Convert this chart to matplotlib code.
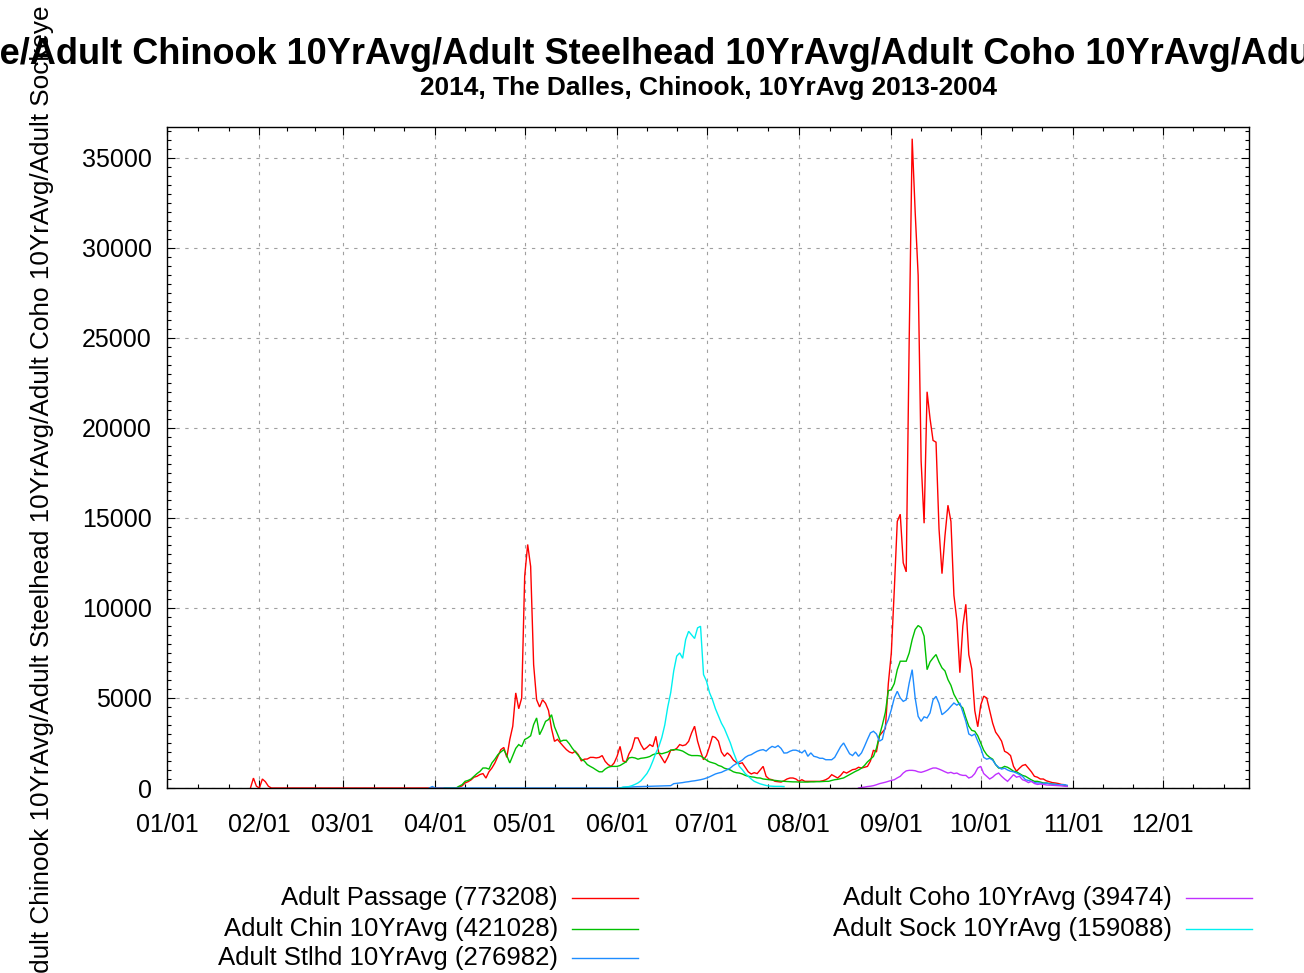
import numpy as np
import matplotlib
matplotlib.use("Agg")
import matplotlib.pyplot as plt
from matplotlib.lines import Line2D
from matplotlib.ticker import FixedLocator, MultipleLocator

plt.rcParams['font.family'] = ['Liberation Sans', 'DejaVu Sans']

# month starts (day of year, 01/01 = 0)
month_days = [0, 31, 59, 90, 120, 151, 181, 212, 243, 273, 304, 334, 365]
month_labels = ['01/01', '02/01', '03/01', '04/01', '05/01', '06/01', '07/01',
                '08/01', '09/01', '10/01', '11/01', '12/01']

title = ("Adult Passage/Adult Chinook 10YrAvg/Adult Steelhead 10YrAvg/"
         "Adult Coho 10YrAvg/Adult Sockeye 10YrAvg")
subtitle = "2014, The Dalles, Chinook, 10YrAvg 2013-2004"

legend_labels = ['Adult Passage (773208)', 'Adult Chin 10YrAvg (421028)',
                 'Adult Stlhd 10YrAvg (276982)', 'Adult Coho 10YrAvg (39474)',
                 'Adult Sock 10YrAvg (159088)']
colors = ['#ff0000', '#00c000', '#1e8cff', '#c030ff', '#00f0f0']

# ---- Adult Passage 2014 (daily) ----
passage_days = [28, 29, 30, 31, 32, 33, 34, 35] + list(range(90, 303))
passage_vals = [0, 550, 100, 0, 500, 350, 100, 0,
    # 90-99
    0, 0, 0, 0, 0, 0, 0, 0, 50, 120,
    # 100-109
    280, 350, 450, 600, 650, 750, 800, 550, 900, 1110,
    # 110-119
    1390, 1760, 2130, 2250, 1700, 2690, 3430, 5280, 4400, 5000,
    # 120-129
    11760, 13520, 12300, 6850, 4900, 4500, 4900, 4700, 4300, 3300,
    # 130-139
    2590, 2700, 2500, 2310, 2130, 2000, 1940, 2040, 1850, 1500,
    # 140-149
    1600, 1610, 1700, 1700, 1670, 1700, 1800, 1480, 1300, 1200,
    # 150-159
    1390, 1760, 2310, 1500, 1450, 1900, 2200, 2780, 2780, 2410,
    # 160-169
    2130, 2250, 2410, 2300, 2870, 1940, 1670, 1390, 1700, 2100,
    # 170-179
    2100, 2200, 2410, 2350, 2400, 2590, 3060, 3430, 2600, 2040,
    # 180-189
    1570, 1800, 2300, 2870, 2800, 2600, 2000, 1760, 1950, 1800,
    # 190-199
    1550, 1420, 1350, 1400, 1150, 900, 780, 850, 800, 1000,
    # 200-209
    1200, 650, 500, 460, 370, 350, 330, 400, 500, 555,
    # 210-219
    555, 500, 370, 460, 370, 370, 370, 370, 370, 370,
    # 220-229
    400, 460, 555, 740, 650, 555, 700, 900, 830, 925,
    # 230-239
    1020, 1050, 1150, 1110, 1150, 1200, 1500, 2100, 2000, 2900,
    # 240-249
    3100, 3300, 5800, 7500, 11000, 14800, 15200, 12500, 12000, 24900,
    # 250-259
    36050, 32000, 28470, 18150, 14700, 22000, 20500, 19300, 19200, 14400,
    # 260-269
    11900, 14000, 15700, 14800, 10700, 9300, 6400, 9000, 10200, 7400,
    # 270-279
    6600, 4300, 3400, 4600, 5100, 5000, 4300, 3600, 3100, 2870,
    # 280-289
    2600, 2040, 1950, 1800, 1200, 930, 1100, 1250, 1300, 1100,
    # 290-299
    900, 650, 600, 500, 500, 400, 350, 300, 280, 250,
    # 300-302
    200, 185, 100]

# ---- Chinook 10yr average ----
chin_days = list(range(93, 303))
chin_vals = [
    # 93-99
    0, 0, 0, 0, 0, 100, 185,
    # 100-109
    370, 420, 500, 650, 800, 925, 1110, 1110, 1050, 1390,
    # 110-119
    1600, 1850, 2000, 2130, 1800, 1390, 1800, 2200, 2410, 2300,
    # 120-129
    2690, 2780, 2900, 3520, 3890, 2960, 3300, 3700, 3800, 4070,
    # 130-139
    3400, 3000, 2590, 2650, 2650, 2450, 2200, 2000, 1800, 1600,
    # 140-149
    1500, 1300, 1200, 1110, 1000, 900, 900, 1050, 1150, 1200,
    # 150-159
    1200, 1200, 1250, 1350, 1450, 1670, 1700, 1670, 1600, 1650,
    # 160-169
    1670, 1700, 1750, 1850, 1900, 1940, 1900, 1950, 2000, 2100,
    # 170-179
    2130, 2130, 2100, 2050, 1950, 1850, 1800, 1800, 1800, 1780,
    # 180-189
    1670, 1550, 1450, 1400, 1350, 1250, 1200, 1100, 1050, 1000,
    # 190-199
    900, 850, 830, 780, 700, 650, 620, 600, 560, 555,
    # 200-209
    500, 480, 460, 440, 420, 400, 380, 370, 360, 350,
    # 210-219
    340, 340, 330, 330, 330, 330, 340, 340, 350, 350,
    # 220-229
    360, 370, 370, 420, 460, 480, 520, 560, 650, 740,
    # 230-239
    830, 925, 1000, 1100, 1250, 1450, 1600, 1750, 2200, 2900,
    # 240-249
    3500, 4200, 5400, 5460, 5800, 6570, 7040, 7040, 7040, 7500,
    # 250-259
    8240, 8800, 9020, 8900, 8430, 6570, 7000, 7220, 7410, 7000,
    # 260-269
    6670, 6500, 6020, 5700, 5200, 4900, 4600, 4440, 3900, 3430,
    # 270-279
    3200, 3150, 2900, 2500, 2100, 1850, 1700, 1600, 1300, 1110,
    # 280-289
    1110, 1200, 1150, 1050, 930, 900, 800, 700, 650, 550,
    # 290-299
    450, 370, 370, 330, 280, 280, 250, 220, 200, 185,
    # 300-302
    185, 150, 120]

# ---- Steelhead 10yr average ----
stlhd_days = [88, 89, 90] + list(range(152, 303))
stlhd_vals = [0, 80, 0,
    # 152-159
    0, 40, 45, 50, 60, 70, 75, 80,
    # 160-169
    90, 95, 100, 105, 110, 115, 120, 125, 128, 130,
    # 170-179
    240, 260, 280, 300, 330, 350, 380, 400, 430, 460,
    # 180-189
    500, 555, 620, 700, 780, 830, 870, 950, 1020, 1110,
    # 190-199
    1250, 1350, 1450, 1550, 1700, 1800, 1850, 1950, 2040, 2100,
    # 200-209
    2130, 2050, 2200, 2310, 2250, 2350, 2200, 1940, 1950, 2040,
    # 210-219
    2100, 2100, 2040, 1950, 2100, 1760, 1950, 1760, 1720, 1650,
    # 220-229
    1650, 1570, 1570, 1570, 1700, 2000, 2300, 2500, 2200, 1900,
    # 230-239
    1800, 2000, 1760, 1950, 2310, 2700, 3060, 3150, 3000, 2600,
    # 240-249
    2700, 3430, 3800, 4350, 5000, 5370, 5000, 4810, 4900, 5830,
    # 250-259
    6570, 5000, 3980, 3700, 3950, 3890, 4170, 4900, 5090, 4700,
    # 260-269
    4070, 4200, 4350, 4540, 4720, 4600, 4720, 4200, 3700, 3000,
    # 270-279
    2900, 3000, 2600, 2220, 1700, 1600, 1650, 1550, 1300, 1150,
    # 280-289
    1050, 1100, 1000, 930, 900, 830, 750, 650, 460, 420,
    # 290-299
    370, 300, 280, 280, 250, 280, 230, 220, 200, 185,
    # 300-302
    185, 185, 150]

# ---- Coho 10yr average ----
coho_days = list(range(232, 303))
coho_vals = [
    # 232-239
    0, 30, 50, 80, 100, 130, 180, 240,
    # 240-249
    280, 320, 370, 420, 460, 560, 650, 830, 950, 980,
    # 250-259
    980, 960, 900, 870, 920, 980, 1050, 1110, 1110, 1050,
    # 260-269
    980, 900, 830, 870, 800, 830, 740, 700, 700, 555,
    # 270-279
    620, 800, 1110, 1200, 800, 650, 500, 600, 750, 830,
    # 280-289
    650, 500, 370, 550, 740, 600, 650, 460, 400, 300,
    # 290-299
    370, 250, 200, 220, 200, 170, 160, 150, 140, 130,
    # 300-302
    120, 100, 90]

# ---- Sockeye 10yr average ----
sock_days = list(range(152, 208))
sock_vals = [
    # 152-159
    0, 40, 60, 80, 130, 200, 280, 400,
    # 160-169
    600, 800, 1100, 1500, 1940, 2300, 2800, 3500, 4500, 5300,
    # 170-179
    6500, 7320, 7500, 7200, 8240, 8700, 8500, 8300, 8890, 8980,
    # 180-189
    6300, 5930, 5300, 4900, 4400, 4000, 3600, 3300, 2900, 2500,
    # 190-199
    2000, 1570, 1200, 1020, 800, 650, 500, 370, 300, 230,
    # 200-207
    185, 140, 110, 100, 90, 90, 90, 80]

series = [(passage_days, passage_vals), (chin_days, chin_vals),
          (stlhd_days, stlhd_vals), (coho_days, coho_vals),
          (sock_days, sock_vals)]

W, H = 1304, 973
fig = plt.figure(figsize=(W / 100, H / 100), dpi=100)
ax = fig.add_axes([167 / W, 1 - 788 / H, (1249 - 167) / W, (788 - 127) / H])

for (d, v), c in zip(series, colors):
    ax.plot(d, v, color=c, lw=1.0, solid_joinstyle='miter')

ax.set_xlim(0, 363)
ax.set_ylim(0, 36700)

ax.xaxis.set_major_locator(FixedLocator(month_days[:-1]))
ax.set_xticklabels(month_labels)
minor_x = []
for a, b in zip(month_days[:-1], month_days[1:]):
    minor_x += [a + (b - a) / 3, a + 2 * (b - a) / 3]
ax.xaxis.set_minor_locator(FixedLocator(minor_x))
ax.yaxis.set_major_locator(MultipleLocator(5000))
ax.yaxis.set_minor_locator(MultipleLocator(500))

ax.tick_params(which='both', direction='in', top=True, right=True, width=0.8)
ax.tick_params(which='major', length=6, labelsize=18)
ax.tick_params(which='minor', length=3)
ax.tick_params(axis='x', which='major', pad=18)
ax.tick_params(axis='y', which='major', pad=11)

ax.grid(True, which='major', color='#a0a0a0', lw=0.8, linestyle=(0, (3, 5)))
for s in ax.spines.values():
    s.set_linewidth(1.0)

# title and y label are wider than the canvas in the original, so they get cut
fig.text(708 / W, 1 - 54 / H, title, ha='center', va='center',
         fontsize=26, fontweight='bold')
fig.text(708 / W, 1 - 88 / H, subtitle, ha='center', va='center',
         fontsize=18.9, fontweight='bold')
fig.text(42 / W, 1 - 532 / H, title, ha='center', va='center',
         rotation=90, fontsize=18.8)

# legend below the plot: text right aligned, sample line after it
legend_pos = [(558, 898), (558, 929), (558, 958), (1172, 898), (1172, 929)]
for lab, c, (xr, yy) in zip(legend_labels, colors, legend_pos):
    fig.text(xr / W, 1 - yy / H, lab, ha='right', va='center', fontsize=18.5)
    fig.add_artist(Line2D([(xr + 14) / W, (xr + 80) / W], [1 - yy / H, 1 - yy / H],
                          color=c, lw=1.0, transform=fig.transFigure))

fig.savefig('out.png', dpi=100)
